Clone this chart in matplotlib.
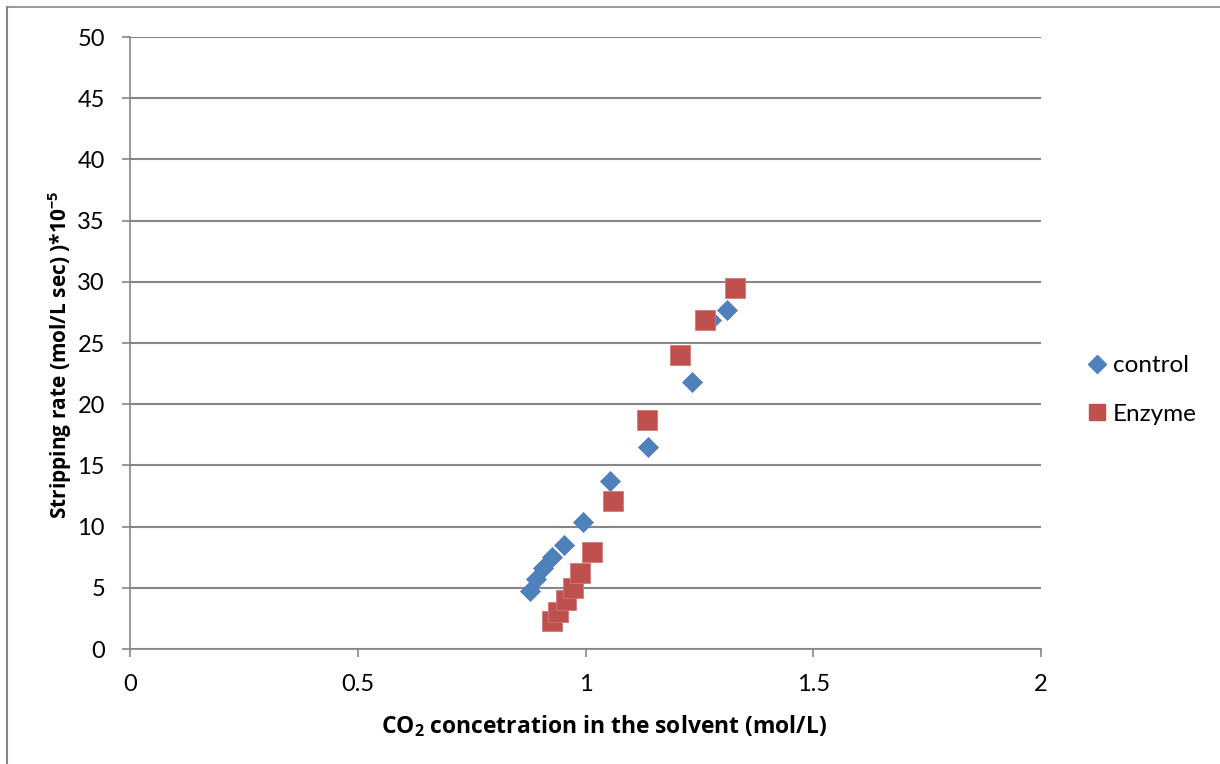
import matplotlib
matplotlib.use("Agg")
import matplotlib.pyplot as plt
from matplotlib.lines import Line2D

plt.rcParams['font.family'] = ['Open Sans', 'DejaVu Sans']
plt.rcParams['mathtext.fontset'] = 'custom'
plt.rcParams['mathtext.rm'] = 'Open Sans'
plt.rcParams['mathtext.bf'] = 'Open Sans:bold'

# CO2 concentration (mol/L) and stripping rate (*1e-5 mol/L sec)
control_x = [0.878, 0.891, 0.907, 0.926, 0.953, 0.994, 1.054, 1.137, 1.234, 1.276, 1.310]
control_y = [4.7, 5.7, 6.6, 7.5, 8.5, 10.4, 13.7, 16.5, 21.8, 26.9, 27.7]

enzyme_x = [0.926, 0.940, 0.957, 0.972, 0.988, 1.014, 1.060, 1.135, 1.207, 1.262, 1.328]
enzyme_y = [2.3, 3.0, 4.0, 5.0, 6.2, 7.9, 12.1, 18.7, 24.0, 26.9, 29.5]

x_ticks = [0, 0.5, 1, 1.5, 2]
x_tick_labels = ["0", "0.5", "1", "1.5", "2"]
y_ticks = [0, 5, 10, 15, 20, 25, 30, 35, 40, 45, 50]

blue = "#4F81BD"
red = "#C0504D"
grid_gray = "#868686"

W, H = 1220, 764
fig = plt.figure(figsize=(W / 100, H / 100), dpi=100)
ax = fig.add_axes([130 / W, 1 - 649 / H, (1041 - 130) / W, (649 - 37) / H])

ax.scatter(control_x, control_y, marker='D', s=10.2 ** 2, color=blue,
           edgecolors='#4A7AB5', linewidths=0.5, zorder=3, label='control')
ax.scatter(enzyme_x, enzyme_y, marker='s', s=13.8 ** 2, color=red,
           edgecolors='#D07A78', linewidths=0.6, zorder=3, label='Enzyme')

ax.set_xlim(0, 2)
ax.set_ylim(0, 50)
ax.set_xticks(x_ticks)
ax.set_xticklabels(x_tick_labels)
ax.set_yticks(y_ticks)

ax.grid(axis='y', color=grid_gray, linewidth=1.5)
ax.set_axisbelow(True)
for side in ('top', 'right'):
    ax.spines[side].set_visible(False)
for side in ('left', 'bottom'):
    ax.spines[side].set_color(grid_gray)
    ax.spines[side].set_linewidth(1.2)

ax.tick_params(axis='both', direction='out', length=6, width=1.2, color=grid_gray,
               labelsize=17, labelcolor='black')
for lbl in ax.get_xticklabels() + ax.get_yticklabels():
    lbl.set_fontfamily('Lato')
ax.tick_params(axis='y', pad=12)
ax.tick_params(axis='x', pad=12)

ax.set_xlabel(r"CO$_\mathbf{2}$ concetration in the solvent (mol/L)",
              fontsize=16.5, fontweight='bold', labelpad=8)
ax.xaxis.set_label_coords(0.52, -0.105)
ax.set_ylabel(r"Stripping rate (mol/L sec) )*10$^{\mathbf{-5}}$",
              fontsize=15, fontweight='bold')
ax.yaxis.set_label_coords(-0.062, 0.48)

handles = [
    Line2D([], [], marker='D', linestyle='none', markersize=9, color=blue, label='control'),
    Line2D([], [], marker='s', linestyle='none', markersize=12, color=red, label='Enzyme'),
]
fig.legend(handles=handles, loc='center left', bbox_to_anchor=(1063 / W, 1 - 390 / H),
           frameon=False, prop={'family': 'Lato', 'size': 17.5},
           handletextpad=0.15, labelspacing=1.15, handlelength=1.0)

# thin outer frame of the chart area
fig.add_artist(Line2D([7 / W, 7 / W], [0, 1 - 7 / H], transform=fig.transFigure,
                      color=grid_gray, linewidth=1.5))
fig.add_artist(Line2D([7 / W, 1], [1 - 7 / H, 1 - 7 / H], transform=fig.transFigure,
                      color=grid_gray, linewidth=1.2))

fig.savefig("out.png", dpi=100)
